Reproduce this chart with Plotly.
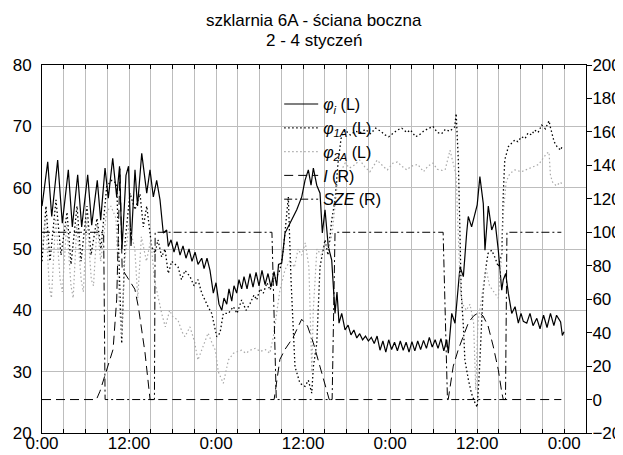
import plotly.graph_objects as go

# time in hours from 2 Jan 0:00
t_phi_i = [0.00, 0.79, 1.34, 2.16, 2.80, 3.63, 4.18, 4.92, 5.47, 6.30, 6.85, 7.62, 8.09, 8.69, 9.14, 9.75,
           10.30, 10.69, 11.03, 11.58, 11.93, 12.27, 12.82, 13.17, 13.75, 14.44, 14.89, 15.35, 15.81, 16.27,
           16.72, 17.19, 17.41, 17.79, 18.20, 18.61, 19.03, 19.44, 19.85, 20.27, 20.68, 21.10, 21.51, 22.02,
           22.34, 22.75, 23.16, 23.62, 23.99, 24.40, 24.78, 25.09, 25.47, 25.78, 26.16, 26.47, 26.84, 27.16,
           27.53, 27.85, 28.27, 28.68, 29.09, 29.51, 29.92, 30.33, 30.75, 31.16, 31.57, 31.99, 32.36, 32.61,
           33.05, 33.50, 34.19, 35.12, 35.81, 36.26, 36.72, 37.09, 37.41, 37.88, 38.33, 38.65, 39.02, 39.47,
           39.94, 40.12, 40.40, 40.67, 40.95, 41.32, 41.78,
           42.2, 42.6, 43.0, 43.4, 43.8, 44.2, 44.6, 45.0, 45.4, 45.8, 46.2, 46.6, 47.0, 47.4, 47.8, 48.2,
           48.6, 49.0, 49.4, 49.8, 50.2, 50.6, 51.0, 51.4, 51.8, 52.2, 52.6, 53.0, 53.4, 53.8, 54.2, 54.6,
           55.0, 55.4, 55.8, 56.02, 56.49, 56.94, 57.63, 58.09, 58.55, 58.77, 59.23, 59.69, 60.0, 60.37,
           60.84, 61.07, 61.53, 62.0, 62.46, 62.91, 63.38, 63.60, 63.93, 64.29, 64.76, 65.22, 65.67, 66.04,
           66.36, 66.83, 67.28, 67.70, 68.22, 68.66, 69.15, 69.63, 70.10, 70.57, 70.94, 71.50, 71.74, 71.97]
phi_i = [57.0, 64.2, 55.3, 64.5, 54.2, 62.9, 53.6, 62.1, 53.6, 62.1, 53.9, 61.2, 54.7, 63.2, 58.3, 64.8,
         58.5, 63.5, 50.0, 62.0, 63.5, 50.5, 62.9, 57.0, 65.6, 59.1, 62.9, 58.5, 61.2, 58.0,
         52.6, 53.1, 50.4, 51.5, 49.5, 51.2, 49.0, 50.5, 48.5, 50.0, 48.0, 49.5, 47.5, 48.5,
         46.8, 48.5, 46.5, 42.8, 44.5, 41.0, 40.0, 42.0, 41.0, 43.5, 41.5, 44.0, 42.8, 45.0,
         43.5, 45.5, 43.5, 46.0, 43.8, 46.2, 44.0, 46.5, 44.2, 46.0, 43.8, 46.3, 44.0, 47.5,
         47.7, 52.6, 54.2, 56.4, 58.5, 61.2, 62.9, 60.4, 63.2, 60.4, 59.1, 52.6, 56.4, 50.4,
         48.2, 45.0, 39.5, 43.0, 37.9, 39.5, 36.8,
         37.6, 36.0, 36.8, 35.5, 36.2, 35.2, 35.8, 35.0, 35.6, 34.6, 35.8, 33.5, 35.0, 33.2, 35.2, 33.6,
         34.8, 33.4, 35.0, 33.5, 34.8, 33.2, 34.9, 33.4, 35.0, 33.6, 35.1, 33.8, 35.6, 34.0, 35.2, 33.8,
         35.4, 33.4, 35.2, 33.0, 39.5, 37.9, 47.1, 45.5, 52.6, 55.3, 53.6, 55.8, 57.2, 61.8,
         57.4, 49.8, 57.0, 53.1, 54.5, 49.8, 43.3, 45.0, 46.0, 42.8, 39.5, 40.6, 37.9, 39.5,
         38.2, 37.9, 39.5, 37.5, 38.7, 37.0, 39.2, 37.2, 39.5, 37.5, 39.2, 38.1, 35.9, 36.5]

t_phi_1a = [0.00, 0.55, 1.10, 1.93, 2.62, 3.45, 4.00, 4.83, 5.38, 6.20, 6.76, 7.58, 8.13, 8.92, 9.61, 10.30,
            10.75, 10.99, 11.44, 12.13, 12.82, 13.51, 13.97, 14.44, 15.12, 15.58, 15.99, 16.50, 16.96, 17.41,
            17.88, 18.75, 19.23, 19.72, 20.41, 20.96, 21.51, 22.02, 22.89, 23.40, 24.09, 24.54, 25.00, 25.69,
            26.38, 26.89, 27.53, 28.13, 28.68, 29.23, 29.60, 30.06, 30.51, 31.02, 31.44, 31.89, 32.36, 32.82,
            33.27, 33.74, 33.96, 34.33, 34.88, 35.57, 36.26, 36.72, 37.19, 37.41, 37.88, 38.33, 39.02, 39.43,
            39.94, 40.40, 40.81, 41.23, 41.78,
            42.5, 43.2, 43.9, 44.6, 45.3, 46.0, 46.7, 47.3, 47.8, 48.4, 49.0, 49.6, 50.3, 50.8, 51.5, 52.0,
            52.7, 53.2, 53.9, 54.5, 55.1, 55.6, 56.2, 56.9, 57.1, 57.4, 57.6, 57.8, 58.1, 58.3, 58.8, 59.2,
            59.7, 60.0, 60.3, 60.6, 60.8, 61.2, 61.5, 62.0, 62.5, 62.9, 63.4, 63.6, 63.8, 64.3, 64.8, 65.2,
            65.6, 66.1, 66.6, 67.0, 67.5, 67.9, 68.4, 68.9, 69.4, 69.9, 70.1, 70.6, 71.0, 71.5, 71.7]
phi_1a = [48.0, 57.0, 48.0, 58.0, 49.0, 56.0, 47.5, 57.0, 48.0, 57.0, 49.0, 55.0, 50.0, 60.2, 61.2, 60.7,
          42.8, 34.6, 51.0, 59.1, 56.4, 59.0, 53.6, 57.0, 50.4, 49.3, 51.5, 48.7, 50.0, 46.0,
          48.0, 47.1, 45.0, 46.5, 45.5, 44.0, 45.0, 42.8, 40.6, 39.5, 35.7, 36.3, 39.5, 39.5,
          40.6, 39.5, 41.7, 40.0, 41.1, 42.5, 41.7, 43.5, 42.8, 44.5, 43.3, 44.9, 45.5, 46.6,
          49.8, 55.3, 58.5, 45.0, 30.8, 28.1, 27.6, 28.6, 26.5, 30.8, 34.6, 47.1, 51.5, 49.0,
          54.7, 58.0, 64.0, 68.0, 69.4,
          68.6, 69.2, 69.0, 69.5, 68.8, 69.7, 69.2, 68.6, 68.3, 68.8, 69.4, 69.7, 69.0, 69.4, 68.3, 68.6,
          69.3, 69.6, 70.0, 69.0, 68.8, 69.5, 69.2, 69.9, 72.1, 64.5, 53.6, 42.8, 37.3, 31.9, 28.6, 26.5,
          24.9, 24.2, 30.0, 37.3, 42.8, 47.0, 49.3, 49.8, 48.5, 47.1, 49.3, 59.1, 64.5, 66.7, 67.3, 67.8,
          67.5, 68.3, 68.0, 68.9, 68.6, 69.4, 69.0, 70.2, 69.6, 70.9, 69.8, 67.5, 66.7, 66.1, 66.7]

t_phi_2a = [0.0, 0.5, 1.0, 1.3, 1.9, 2.5, 2.8, 3.4, 4.0, 4.3, 4.8, 5.4, 5.7, 6.2, 6.8, 7.1, 7.6, 8.1, 8.9,
            9.5, 10.2, 10.7, 11.0, 11.4, 12.0, 12.8, 13.2, 13.7, 14.4, 15.0, 15.5, 16.0, 16.5, 17.0, 17.6,
            18.0, 18.75, 19.3, 19.7, 20.4, 21.0, 21.5, 22.0, 22.9, 23.5, 23.9, 24.3, 24.8, 25.0, 25.7, 26.4,
            27.0, 27.5, 28.1, 28.7, 29.4, 30.1, 30.8, 31.4, 31.9, 32.4, 32.8, 33.5, 34.2, 34.8, 35.3, 35.8,
            36.3, 36.8, 37.2, 37.4, 37.9, 38.5, 39.0, 39.5, 40.0, 40.4, 40.8, 41.8, 42.4, 43.1, 43.8, 44.5,
            45.2, 45.7, 46.2, 47.1, 47.6, 48.4, 49.0, 49.6, 50.3, 50.9, 51.8, 52.6, 53.2, 53.9, 54.5, 55.2,
            55.6, 56.25, 56.7, 57.1, 57.3, 57.5, 57.7, 58.0, 58.5, 59.0, 59.5, 59.8, 60.1, 60.6, 61.2, 61.7,
            62.3, 62.9, 63.3, 63.6, 64.0, 64.5, 65.2, 66.1, 66.9, 67.6, 68.5, 68.9, 69.6, 69.9, 70.1, 70.4,
            70.9, 71.5, 71.7]
phi_2a = [50.0, 55.0, 44.0, 42.0, 55.0, 45.0, 43.0, 54.0, 44.0, 42.0, 54.0, 45.0, 43.0, 55.0, 45.0, 44.0,
          54.0, 48.0, 56.0, 57.0, 55.0, 40.0, 36.0, 48.0, 54.0, 50.0, 42.0, 52.0, 48.0, 51.5, 45.0,
          42.0, 39.5, 37.3, 40.0, 39.0, 38.4, 36.5, 35.7, 37.3, 35.0, 31.9, 33.5, 36.3, 34.5, 33.5,
          30.0, 28.6, 28.1, 31.9, 33.0, 33.3, 33.5, 33.0, 33.5, 33.8, 33.3, 33.6, 33.0, 35.7, 40.1,
          43.3, 46.6, 48.2, 47.0, 50.0, 49.0, 51.0, 47.0, 30.0, 40.0, 50.0, 49.0, 51.0, 50.0, 52.5,
          57.0, 61.8, 64.0, 63.2, 63.7, 64.5, 63.4, 62.6, 63.5, 64.5, 63.4, 62.9, 64.0, 64.2, 63.5,
          62.9, 63.5, 63.8, 62.6, 63.5, 64.0, 63.0, 62.8, 63.0, 66.1, 64.0, 62.0, 55.0, 48.0, 43.0,
          41.0, 40.0, 41.0, 38.0, 27.0, 38.0, 42.0, 47.0, 44.0, 43.0, 42.0, 48.0, 56.0, 61.0, 62.3,
          62.9, 62.6, 63.0, 63.4, 63.8, 64.5, 65.6, 65.8, 62.0, 60.9, 60.3, 60.9, 60.5]

t_irr = [0.0, 7.5, 8.0, 8.5, 9.0, 9.4, 9.8, 10.3, 10.75, 11.05, 11.9, 12.8, 13.3, 13.8, 14.2, 14.6, 14.9,
         32.0, 32.3, 32.8, 33.5, 34.6, 35.8, 36.6, 37.4, 38.6, 39.6,
         56.0, 56.7, 57.4, 58.3, 58.8, 59.5, 60.2, 60.8, 61.5, 62.2, 62.9, 63.4, 63.6, 71.6]
irr = [0, 0, 5, 12, 18, 24, 30, 60, 138, 78, 72, 66, 55, 40, 28, 12, 0,
       0, 8, 24, 30, 37, 48, 44, 34, 16, 0,
       0, 20, 30, 40, 46, 50, 52, 50, 44, 32, 18, 4, 0, 0]

t_sze = [0.0, 8.5, 8.7, 15.5, 15.6, 31.7, 32.3, 40.0, 40.4, 55.3, 55.9, 63.9, 64.1, 71.6]
sze = [100, 100, 0, 0, 100, 100, 0, 0, 100, 100, 0, 0, 100, 100]

x_tick_vals = [0, 12, 24, 36, 48, 60, 72]
x_tick_text = ["0:00", "12:00", "0:00", "12:00", "0:00", "12:00", "0:00"]

FONT = "Arial, Liberation Sans, sans-serif"

fig = go.Figure()
fig.add_trace(go.Scatter(x=t_phi_i, y=phi_i, mode="lines", name="<i>φ<sub>i</sub></i> (L)",
                         line=dict(color="black", width=1.2)))
fig.add_trace(go.Scatter(x=t_phi_1a, y=phi_1a, mode="lines", name="<i>φ<sub>1A</sub></i> (L)",
                         line=dict(color="black", width=1.3, dash="1.5px,2.5px")))
fig.add_trace(go.Scatter(x=t_phi_2a, y=phi_2a, mode="lines", name="<i>φ<sub>2A</sub></i> (L)",
                         line=dict(color="#a8a8a8", width=1.2, dash="1.5px,2.5px")))
fig.add_trace(go.Scatter(x=t_irr, y=irr, mode="lines", name="<i>I</i> (R)", yaxis="y2",
                         line=dict(color="black", width=1, dash="9px,5px")))
fig.add_trace(go.Scatter(x=t_sze, y=sze, mode="lines", name="<i>SZE</i> (R)", yaxis="y2",
                         line=dict(color="black", width=1, dash="8px,3px,2px,3px")))

grid_c = "#bdbdbd"
fig.update_layout(
    width=615, height=447,
    margin=dict(l=34, r=37, t=57, b=22),
    paper_bgcolor="white", plot_bgcolor="white",
    font=dict(family=FONT, size=17, color="black"),
    showlegend=True,
    legend=dict(x=0.436, y=0.94, xanchor="left", yanchor="top", bgcolor="rgba(0,0,0,0)",
                font=dict(size=16), tracegroupgap=0, itemwidth=34),
    xaxis=dict(range=[0, 75], tickvals=x_tick_vals, ticktext=x_tick_text,
               showgrid=True, gridcolor=grid_c, gridwidth=1,
               minor=dict(dtick=3, tick0=0, showgrid=True, gridcolor=grid_c, gridwidth=1,
                          ticks="inside", ticklen=4, tickcolor="black"),
               ticks="inside", ticklen=4, tickcolor="black",
               showline=True, linecolor="black", linewidth=1, mirror="ticks",
               ticklabelstandoff=-5, zeroline=False, automargin=False),
    yaxis=dict(range=[20, 80], dtick=10, showgrid=True, gridcolor=grid_c, gridwidth=1,
               showline=True, linecolor="black", linewidth=1, ticks="", zeroline=False,
               ticklabelstandoff=6, automargin=False),
    yaxis2=dict(range=[-20, 200], dtick=20, overlaying="y", side="right", showgrid=False,
                showline=True, linecolor="black", linewidth=1, ticks="outside", ticklen=5,
                tickcolor="black", zeroline=False, ticklabelstandoff=-3, automargin=False),
    annotations=[
        dict(text="szklarnia 6A - ściana boczna", x=0.5, y=1.122, xref="paper", yref="paper",
             showarrow=False, font=dict(size=17), xanchor="center", yanchor="middle"),
        dict(text="2 - 4 styczeń", x=0.5, y=1.066, xref="paper", yref="paper",
             showarrow=False, font=dict(size=17), xanchor="center", yanchor="middle"),
    ],
)

fig.write_html("out.html")
